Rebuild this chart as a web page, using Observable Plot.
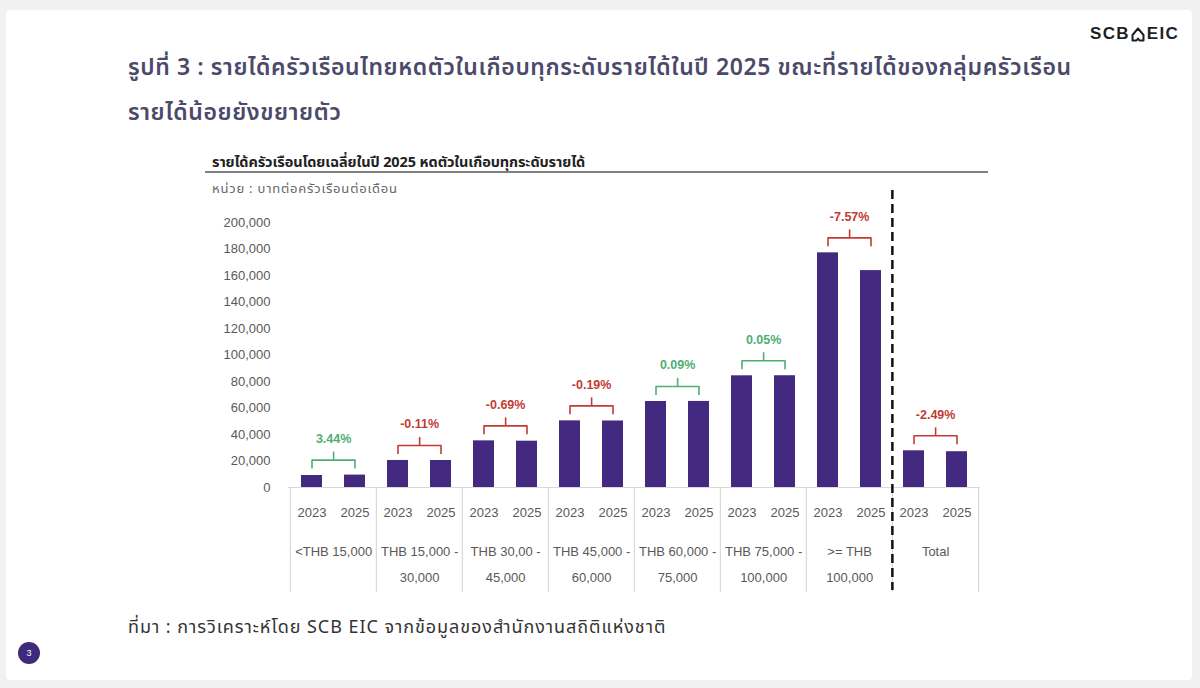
<!DOCTYPE html>
<html>
<head>
<meta charset="utf-8">
<script src="https://cdn.jsdelivr.net/npm/d3@7"></script>
<script src="https://cdn.jsdelivr.net/npm/@observablehq/plot@0.6"></script>
<style>
  html, body { margin: 0; padding: 0; }
  body { width: 1200px; height: 688px; overflow: hidden; background: #f1f1f1; position: relative;
         font-family: "Noto Sans Thai", "Noto Sans", "Liberation Sans", sans-serif; }
  #card { position: absolute; left: 6px; top: 10px; width: 1186px; height: 670px; background: #fff; border-radius: 4px; }
  .abs { position: absolute; white-space: nowrap; }
  #t1, #t2 { left: 128px; font-size: 23px; font-weight: 600; color: #4b4a6b; line-height: 30px; letter-spacing: 0.6px; }
  #t1 { top: 53px; }
  #t2 { top: 98px; }
  #logo { left: 1090px; top: 24px; font-family: "Liberation Sans", sans-serif; font-weight: 700; font-size: 17px;
          color: #1f1f1f; letter-spacing: 1.3px; line-height: 20px; display: flex; align-items: center; }
  #logo svg { margin: 0 2px 0 1px; }
  #sub { left: 212px; top: 152px; font-size: 14.5px; font-weight: 700; color: #222; line-height: 22px; letter-spacing: -0.1px; }
  #rule { left: 205px; top: 171px; width: 783px; height: 2px; background: #7f7f7f; }
  #unit { left: 212px; top: 180px; font-size: 13px; color: #666; line-height: 18px; letter-spacing: 0.8px; }
  #chart { position: absolute; left: 200px; top: 180px; }
  #src { left: 128px; top: 615px; font-size: 18px; color: #333; line-height: 26px; letter-spacing: 0.95px; }
  #page { left: 18px; top: 642px; width: 22px; height: 22px; border-radius: 50%; background: #3d2a7a; color: #fff;
          font-size: 9px; line-height: 22px; text-align: center; font-family: "Liberation Sans", sans-serif; }
</style>
</head>
<body>
<div id="card"></div>
<div class="abs" id="t1">รูปที่ 3 : รายได้ครัวเรือนไทยหดตัวในเกือบทุกระดับรายได้ในปี 2025 ขณะที่รายได้ของกลุ่มครัวเรือน</div>
<div class="abs" id="t2">รายได้น้อยยังขยายตัว</div>
<div class="abs" id="logo">SCB<svg width="14" height="15" viewBox="0 0 14 15"><path d="M7 1.5 L12.5 8 L12.5 13.5 L8.5 13.5 L7 11.5 L5.5 13.5 L1.5 13.5 L1.5 8 Z" fill="none" stroke="#1f1f1f" stroke-width="2" stroke-linejoin="round"/></svg>EIC</div>
<div class="abs" id="sub">รายได้ครัวเรือนโดยเฉลี่ยในปี 2025 หดตัวในเกือบทุกระดับรายได้</div>
<div class="abs" id="rule"></div>
<div class="abs" id="unit">หน่วย : บาทต่อครัวเรือนต่อเดือน</div>
<div id="chart"></div>
<div class="abs" id="src">ที่มา : การวิเคราะห์โดย SCB EIC จากข้อมูลของสำนักงานสถิติแห่งชาติ</div>
<div class="abs" id="page">3</div>

<script>
// ---- data ----
const groups = [
  "<THB 15,000",
  "THB 15,000 -\n30,000",
  "THB 30,00 -\n45,000",
  "THB 45,000 -\n60,000",
  "THB 60,000 -\n75,000",
  "THB 75,000 -\n100,000",
  ">= THB\n100,000",
  "Total"
];
const years = ["2023", "2025"];
const income2023 = [9050, 20400, 35200, 50300, 64900, 84300, 177100, 27700];
const income2025 = [9360, 20380, 34960, 50200, 64960, 84340, 163700, 27010];
const changePct = [3.44, -0.11, -0.69, -0.19, 0.09, 0.05, -7.57, -2.49];
const changeLabels = ["3.44%", "-0.11%", "-0.69%", "-0.19%", "0.09%", "0.05%", "-7.57%", "-2.49%"];
const yTicks = [0, 20000, 40000, 60000, 80000, 100000, 120000, 140000, 160000, 180000, 200000];

// ---- tables built from the arrays ----
const key = (gi, y) => gi + "|" + y;
const rows = [];
groups.forEach((g, gi) => {
  rows.push({key: key(gi, years[0]), year: years[0], value: income2023[gi]});
  rows.push({key: key(gi, years[1]), year: years[1], value: income2025[gi]});
});
const grp = groups.map((g, gi) => ({
  gi, label: g, k0: key(gi, years[0]), k1: key(gi, years[1]),
  top: Math.max(income2023[gi], income2025[gi]),
  pct: changePct[gi], pctLabel: changeLabels[gi]
}));
const domain = rows.map(d => d.key);

// ---- layout ----
const W = 800, H = 420, mL = 88, mR = 20, mT = 42, mB = 113;
const step = (W - mL - mR) / domain.length;
const frameH = H - mT - mB;
const green = "#4fae72", red = "#c23b34";
const colorOf = d => d.pct >= 0 ? green : red;
const barColor = "#43297f";
const sepColor = "#d9d9d9";

const chart = Plot.plot({
  width: W, height: H,
  marginLeft: mL, marginRight: mR, marginTop: mT, marginBottom: mB,
  style: {fontFamily: "'Liberation Sans', 'Noto Sans Thai', sans-serif", fontSize: "13px", color: "#595959", background: "transparent", overflow: "visible"},
  x: {type: "band", domain, paddingInner: 0.514, paddingOuter: 0.257, axis: null},
  y: {domain: [0, 200000], axis: null},
  marks: [
    Plot.axisY(yTicks, {tickSize: 0, tickPadding: 18, tickFormat: d3.format(","), fontSize: 13, fill: "#595959"}),
    Plot.axisX({tickSize: 0, tickPadding: 20, tickFormat: k => k.split("|")[1], fontSize: 13, fill: "#595959"}),
    // category table lines
    Plot.ruleY([0], {stroke: sepColor, strokeWidth: 1.2}),
    Plot.ruleX(grp, {x: "k0", dx: -step / 2, stroke: sepColor, strokeWidth: 1.2, insetTop: frameH, insetBottom: -105}),
    Plot.ruleX(grp.slice(-1), {x: "k1", dx: step / 2, stroke: sepColor, strokeWidth: 1.2, insetTop: frameH, insetBottom: -105}),
    // group labels
    Plot.text(grp, {x: "k0", dx: step / 2, text: "label", frameAnchor: "bottom", dy: 50, lineAnchor: "top", lineHeight: 2, fontSize: 13, fill: "#595959"}),
    // bars
    Plot.barY(rows, {x: "key", y: "value", fill: barColor}),
    // brackets
    Plot.link(grp, {x1: "k0", x2: "k1", y1: "top", y2: "top", dy: -15, stroke: colorOf, strokeWidth: 1.6}),
    Plot.ruleX(grp, {x: "k0", y1: "top", y2: "top", insetTop: -15, insetBottom: 6, stroke: colorOf, strokeWidth: 1.6}),
    Plot.ruleX(grp, {x: "k1", y1: "top", y2: "top", insetTop: -15, insetBottom: 6, stroke: colorOf, strokeWidth: 1.6}),
    Plot.ruleX(grp, {x: "k0", dx: step / 2, y1: "top", y2: "top", insetTop: -23, insetBottom: 15, stroke: colorOf, strokeWidth: 1.6}),
    Plot.text(grp, {x: "k0", dx: step / 2, y: "top", dy: -36, text: "pctLabel", fill: colorOf, fontWeight: "bold", fontSize: 12.5}),
    // dashed separator before Total
    Plot.ruleX(grp.slice(-1), {x: "k0", dx: -step / 2, stroke: "#111", strokeWidth: 2.5, strokeDasharray: "9,5", insetTop: -32, insetBottom: -103})
  ]
});
document.getElementById("chart").appendChild(chart);
</script>
</body>
</html>
